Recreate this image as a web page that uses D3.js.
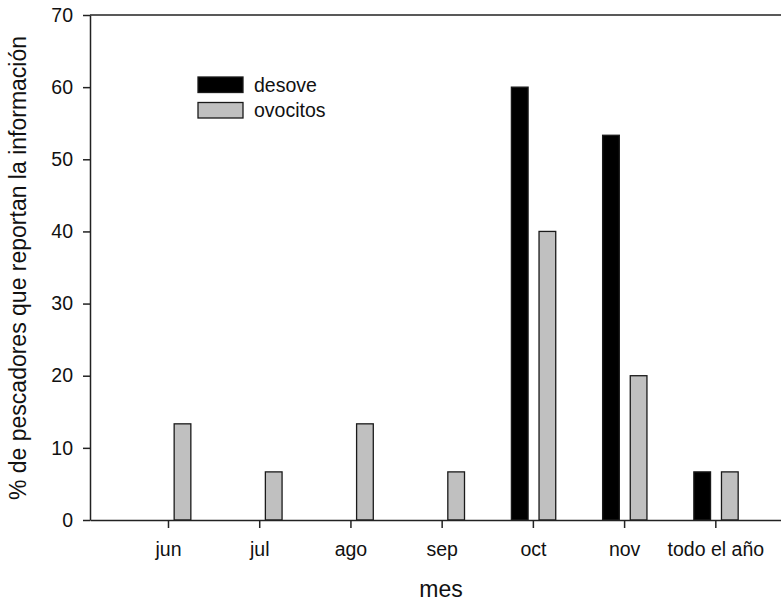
<!DOCTYPE html>
<html>
<head>
<meta charset="utf-8">
<script src="https://cdn.jsdelivr.net/npm/d3@7"></script>
<style>
  body { margin: 0; background: #fff; }
  svg { display: block; font-family: "Liberation Sans", Arial, sans-serif; }
</style>
</head>
<body>
<svg id="chart" width="781" height="603"></svg>
<script>
// Months and percentage of fishers reporting each kind of information
const meses = ["jun", "jul", "ago", "sep", "oct", "nov", "todo el año"];
const desove = [0, 0, 0, 0, 60, 53.33, 6.67];
const ovocitos = [13.33, 6.67, 13.33, 6.67, 40, 20, 6.67];
const yTicks = [0, 10, 20, 30, 40, 50, 60, 70];

const series = [
  { name: "desove", values: desove, fill: "#000000", offset: -0.144 },
  { name: "ovocitos", values: ovocitos, fill: "#c0c0c0", offset: 0.159 }
];

const svg = d3.select("#chart");
const plotLeft = 90, plotRight = 781, plotTop = 15, plotBottom = 520;
const fontTick = 19.5, fontTitle = 23;

// Category index -> pixel; the axis frame starts a bit left of the first month
const x = d3.scaleLinear().domain([-0.855, 6.72]).range([plotLeft, plotRight]);
const y = d3.scaleLinear().domain([0, 70]).range([plotBottom, plotTop]);
const barW = x(0.183) - x(0);

// Bars
series.forEach(s => {
  svg.append("g").selectAll("rect")
    .data(s.values.map((v, i) => ({ v, i })).filter(d => d.v > 0))
    .join("rect")
    .attr("x", d => x(d.i + s.offset) - barW / 2)
    .attr("y", d => y(d.v))
    .attr("width", barW)
    .attr("height", d => y(0) - y(d.v))
    .attr("fill", s.fill)
    .attr("stroke", "#1a1a1a")
    .attr("stroke-width", 1.3);
});

// Top frame line
svg.append("line")
  .attr("x1", plotLeft).attr("x2", plotRight)
  .attr("y1", plotTop).attr("y2", plotTop)
  .attr("stroke", "#222").attr("stroke-width", 1.5);

// Y axis
const yAxis = svg.append("g")
  .attr("transform", `translate(${plotLeft},0)`)
  .call(d3.axisLeft(y).tickValues(yTicks).tickSize(7).tickPadding(10).tickSizeOuter(0));
yAxis.select(".domain").attr("stroke", "#222").attr("stroke-width", 1.5);
yAxis.selectAll(".tick line").attr("stroke", "#222").attr("stroke-width", 1.5);
yAxis.selectAll(".tick text")
  .attr("font-size", fontTick).attr("fill", "#111")
  .attr("font-family", "Liberation Sans, Arial, sans-serif");

// X axis
const xAxis = svg.append("g")
  .attr("transform", `translate(0,${plotBottom})`)
  .call(d3.axisBottom(x).tickValues(d3.range(meses.length))
    .tickFormat(i => meses[i]).tickSize(8).tickPadding(14).tickSizeOuter(0));
xAxis.select(".domain").attr("stroke", "#222").attr("stroke-width", 1.5);
xAxis.selectAll(".tick line").attr("stroke", "#222").attr("stroke-width", 1.5);
xAxis.selectAll(".tick text")
  .attr("font-size", fontTick).attr("fill", "#111")
  .attr("font-family", "Liberation Sans, Arial, sans-serif");

// Axis titles
svg.append("text")
  .attr("x", 441).attr("y", 597)
  .attr("text-anchor", "middle")
  .attr("font-size", fontTitle).attr("fill", "#111")
  .text("mes");

svg.append("text")
  .attr("transform", "translate(26,268) rotate(-90)")
  .attr("text-anchor", "middle")
  .attr("font-size", fontTitle).attr("fill", "#111")
  .text("% de pescadores que reportan la información");

// Legend
const legend = svg.append("g").attr("transform", "translate(198,77)");
series.forEach((s, k) => {
  const g = legend.append("g").attr("transform", `translate(0,${k * 25.5})`);
  g.append("rect")
    .attr("width", 45).attr("height", 15.5)
    .attr("fill", s.fill)
    .attr("stroke", "#1a1a1a").attr("stroke-width", 1.3);
  g.append("text")
    .attr("x", 56).attr("y", 14.5)
    .attr("font-size", fontTick).attr("fill", "#111")
    .text(s.name);
});
</script>
</body>
</html>
